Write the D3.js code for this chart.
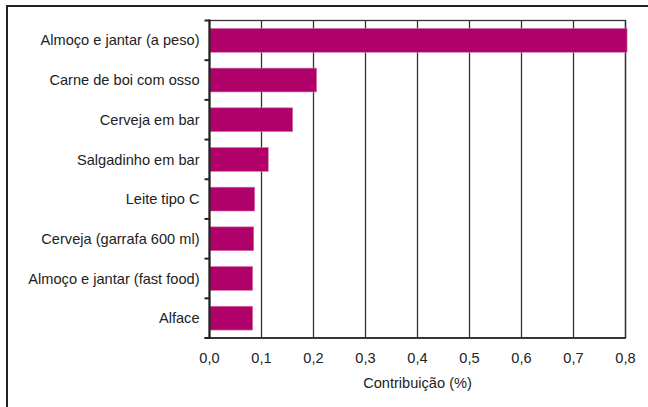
<!DOCTYPE html>
<html>
<head>
<meta charset="utf-8">
<script src="https://cdn.jsdelivr.net/npm/d3@7"></script>
<style>
  body { margin: 0; background: #fff; }
  svg text { font-family: "Liberation Sans", Arial, sans-serif; fill: #222; }
</style>
</head>
<body>
<div id="chart"></div>
<script>
const categories = [
  "Almoço e jantar (a peso)",
  "Carne de boi com osso",
  "Cerveja em bar",
  "Salgadinho em bar",
  "Leite tipo C",
  "Cerveja (garrafa 600 ml)",
  "Almoço e jantar (fast food)",
  "Alface"
];
const values = [0.803, 0.206, 0.160, 0.113, 0.087, 0.085, 0.083, 0.083];
const xTicks = [0, 0.1, 0.2, 0.3, 0.4, 0.5, 0.6, 0.7, 0.8];
const xTitle = "Contribuição (%)";

const width = 648;
const height = 407;
const plotLeft = 209.5, plotRight = 625.5, plotTop = 20.5, plotBottom = 338;
const fontSize = 14.6;

const svg = d3.select("#chart")
              .append("svg")
              .attr("width", width)
              .attr("height", height);

// outer frame
svg.append("rect")
   .attr("x", 7).attr("y", 6)
   .attr("width", 700).attr("height", 500)
   .attr("fill", "none")
   .attr("stroke", "#222")
   .attr("stroke-width", 2);

const xScale = d3.scaleLinear()
                 .domain([0, 0.8])
                 .range([plotLeft, plotRight]);

const yScale = d3.scaleBand()
                 .domain(categories)
                 .range([plotTop, plotBottom])
                 .paddingInner(0.4)
                 .paddingOuter(0.2);

// plot frame + gridlines
svg.append("rect")
   .attr("x", plotLeft).attr("y", plotTop)
   .attr("width", plotRight - plotLeft).attr("height", plotBottom - plotTop)
   .attr("fill", "none")
   .attr("stroke", "#333")
   .attr("stroke-width", 1.3);

svg.selectAll("line.grid")
   .data(xTicks.slice(1))
   .enter()
   .append("line")
   .attr("class", "grid")
   .attr("x1", d => xScale(d)).attr("x2", d => xScale(d))
   .attr("y1", plotTop).attr("y2", plotBottom)
   .attr("stroke", "#333")
   .attr("stroke-width", 1.3);

// bars
svg.selectAll("rect.bar")
   .data(values)
   .enter()
   .append("rect")
   .attr("class", "bar")
   .attr("x", xScale(0))
   .attr("y", (d, i) => yScale(categories[i]))
   .attr("width", d => xScale(d) - xScale(0))
   .attr("height", yScale.bandwidth())
   .attr("fill", "#b0006a")
   .attr("stroke", "#d870a8")
   .attr("stroke-width", 0.6);

// y axis
const yAxis = svg.append("g")
   .attr("transform", `translate(${plotLeft},0)`);
yAxis.append("line")
   .attr("x1", 0).attr("x2", 0)
   .attr("y1", plotTop - 1).attr("y2", plotBottom + 1)
   .attr("stroke", "#222").attr("stroke-width", 2.2);
const bounds = d3.range(categories.length + 1)
   .map(i => plotTop + i * (plotBottom - plotTop) / categories.length);
yAxis.selectAll("line.tick")
   .data(bounds)
   .enter()
   .append("line")
   .attr("class", "tick")
   .attr("x1", -5).attr("x2", 0)
   .attr("y1", d => d).attr("y2", d => d)
   .attr("stroke", "#222").attr("stroke-width", 2);
yAxis.selectAll("text")
   .data(categories)
   .enter()
   .append("text")
   .attr("x", -10)
   .attr("y", d => yScale(d) + yScale.bandwidth() / 2)
   .attr("dy", "0.35em")
   .attr("text-anchor", "end")
   .attr("font-size", fontSize)
   .text(d => d);

// bottom axis line
svg.append("line")
   .attr("x1", plotLeft - 5).attr("x2", plotRight)
   .attr("y1", plotBottom).attr("y2", plotBottom)
   .attr("stroke", "#222").attr("stroke-width", 1.6);

// x tick labels
svg.selectAll("text.xtick")
   .data(xTicks)
   .enter()
   .append("text")
   .attr("class", "xtick")
   .attr("x", d => xScale(d))
   .attr("y", 363)
   .attr("text-anchor", "middle")
   .attr("font-size", fontSize)
   .text(d => d3.format(".1f")(d).replace(".", ","));

svg.append("text")
   .attr("x", (plotLeft + plotRight) / 2)
   .attr("y", 388)
   .attr("text-anchor", "middle")
   .attr("font-size", fontSize)
   .text(xTitle);
</script>
</body>
</html>
